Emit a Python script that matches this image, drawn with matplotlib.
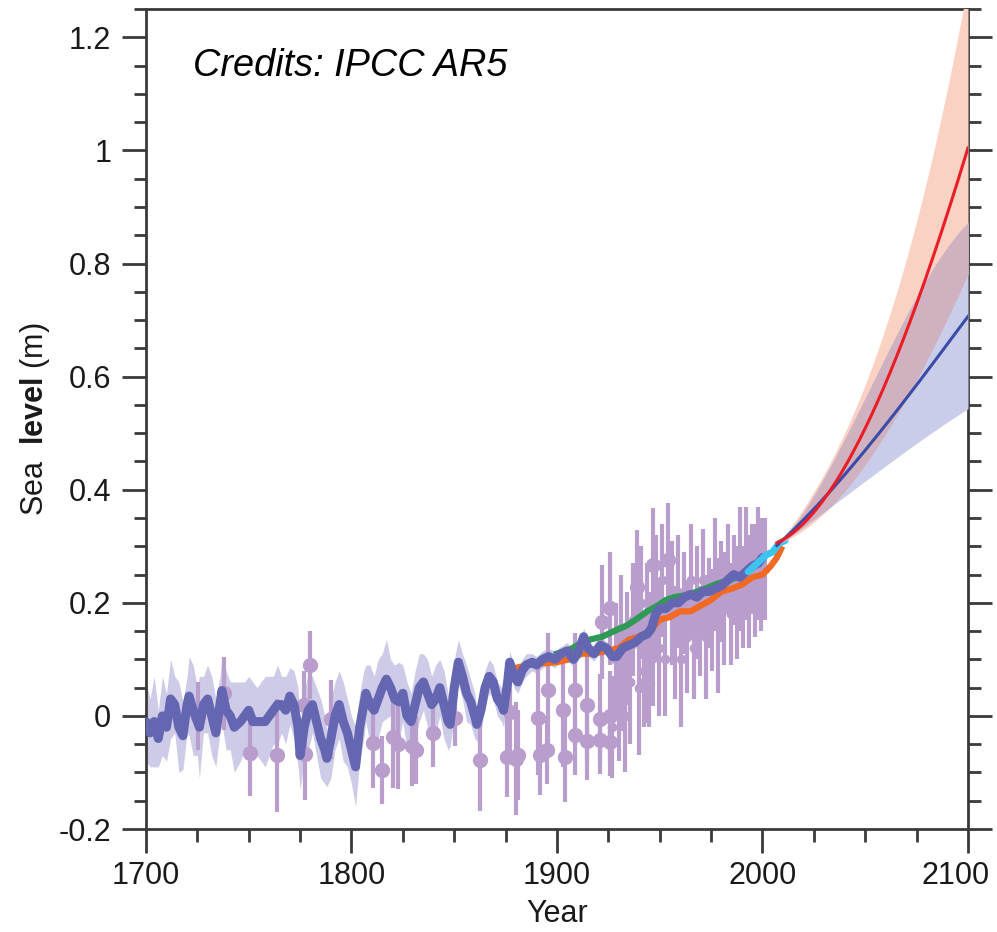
import numpy as np
import matplotlib
matplotlib.use("Agg")
import matplotlib.pyplot as plt
import matplotlib.transforms as mtransforms
from matplotlib.ticker import MultipleLocator

plt.rcParams['font.family'] = ['Liberation Sans', 'DejaVu Sans']
plt.rcParams['mathtext.fontset'] = 'custom'
plt.rcParams['mathtext.rm'] = 'Liberation Sans'
plt.rcParams['mathtext.bf'] = 'Liberation Sans:bold'

# ---- Reconstruction (long-term, 1700-2000) ----
recon_years = [1700, 1702, 1704, 1706, 1708, 1710, 1712, 1714, 1716, 1718,
               1720, 1721, 1723, 1725, 1726, 1728, 1730, 1732, 1734, 1736,
               1737, 1739, 1741, 1743, 1746, 1748, 1750, 1752, 1754, 1756,
               1758, 1760, 1762, 1764, 1766, 1768, 1770, 1772, 1774, 1775,
               1777, 1779, 1781, 1783, 1785, 1787, 1788, 1790, 1792, 1794,
               1796, 1798, 1800, 1802, 1804, 1806, 1807, 1809, 1811, 1813,
               1815, 1817, 1819, 1821, 1823, 1825, 1827, 1829, 1831, 1833,
               1835, 1837, 1839, 1841, 1843, 1845, 1847, 1848, 1850, 1852,
               1854, 1856, 1858, 1860, 1861, 1863, 1865, 1867, 1869, 1871,
               1873, 1874, 1876, 1877, 1879, 1881, 1883, 1885, 1888, 1890,
               1893, 1896, 1899, 1902, 1905, 1908, 1910, 1913, 1915, 1918,
               1921, 1924, 1927, 1929, 1932, 1935, 1938, 1941, 1944, 1946,
               1948, 1950, 1953, 1956, 1959, 1962, 1965, 1968, 1971, 1974,
               1977, 1980, 1983, 1986, 1989, 1992, 1995, 1998, 2000]
recon_vals = [-0.01, -0.03, -0.01, -0.04, 0.00, -0.02, 0.03, 0.02, -0.02, -0.035,
              0.02, 0.035, 0.01, -0.01, -0.02, 0.02, 0.03, 0.00, -0.03, 0.02,
              0.045, 0.01, 0.00, -0.02, -0.01, 0.00, 0.01, -0.01, -0.01, -0.01,
              -0.01, 0.00, 0.01, 0.02, 0.02, 0.01, 0.035, 0.02, -0.02, -0.07,
              -0.02, 0.01, 0.02, -0.01, -0.04, -0.06, -0.075, -0.04, 0.00, 0.02,
              -0.01, -0.03, -0.06, -0.09, -0.02, 0.02, 0.04, 0.02, 0.01, 0.03,
              0.05, 0.065, 0.05, 0.03, 0.025, 0.04, 0.00, -0.01, 0.02, 0.05,
              0.06, 0.04, 0.02, 0.03, 0.05, 0.02, -0.01, -0.015, 0.05, 0.095,
              0.07, 0.04, 0.025, 0.00, -0.015, 0.01, 0.05, 0.07, 0.06, 0.03,
              0.02, 0.01, 0.06, 0.095, 0.07, 0.06, 0.08, 0.09, 0.095, 0.09,
              0.10, 0.105, 0.10, 0.11, 0.115, 0.10, 0.11, 0.14, 0.12, 0.11,
              0.125, 0.12, 0.105, 0.105, 0.12, 0.125, 0.13, 0.14, 0.145, 0.155,
              0.18, 0.19, 0.19, 0.20, 0.20, 0.21, 0.215, 0.21, 0.22, 0.22,
              0.225, 0.23, 0.24, 0.25, 0.245, 0.255, 0.265, 0.27, 0.28]
recon_err = [0.07, 0.06, 0.08, 0.05, 0.07, 0.06, 0.07, 0.05, 0.08, 0.06,
             0.05, 0.07, 0.08, 0.06, 0.09, 0.05, 0.06, 0.07, 0.06, 0.05,
             0.06, 0.07, 0.06, 0.08, 0.07, 0.06, 0.06, 0.07, 0.06, 0.07,
             0.08, 0.07, 0.06, 0.07, 0.05, 0.06, 0.05, 0.06, 0.07, 0.06,
             0.06, 0.07, 0.05, 0.06, 0.07, 0.06, 0.05, 0.07, 0.06, 0.06,
             0.07, 0.06, 0.06, 0.07, 0.06, 0.06, 0.05, 0.07, 0.06, 0.07,
             0.06, 0.07, 0.05, 0.06, 0.07, 0.05, 0.06, 0.05, 0.06, 0.06,
             0.05, 0.06, 0.05, 0.06, 0.05, 0.06, 0.05, 0.04, 0.05, 0.04,
             0.04, 0.05, 0.04, 0.04, 0.03, 0.04, 0.03, 0.03, 0.03, 0.03,
             0.03, 0.03, 0.02, 0.02, 0.02, 0.02, 0.02, 0.02, 0.015, 0.015,
             0.015, 0.014, 0.015, 0.013, 0.015, 0.014, 0.013, 0.015, 0.014, 0.013,
             0.013, 0.012, 0.013, 0.012, 0.012, 0.012, 0.011, 0.012, 0.011, 0.011,
             0.011, 0.010, 0.010, 0.010, 0.010, 0.010, 0.010, 0.010, 0.010, 0.010,
             0.010, 0.010, 0.010, 0.010, 0.010, 0.010, 0.010, 0.010, 0.010]

# ---- Tide-gauge / salt-marsh points with error bars ----
tg_years = [1725.5, 1738, 1750.6, 1763.6, 1777.4, 1777, 1779.8, 1790, 1810.6, 1814.7,
            1820.4, 1822.5, 1829.3, 1831.5, 1839.8, 1850.5, 1862.5, 1875.5, 1877, 1880.3,
            1881, 1890.8, 1891.7, 1895.7, 1895, 1903, 1903.9, 1908.8, 1908.8, 1914.4,
            1914.4, 1921, 1921, 1925.8, 1925.8, 1921.7, 1925.8, 1938.8, 1946.8, 1954.2,
            1932, 1946.8, 1943.6]
tg_vals = [0.00, 0.04, -0.066, -0.07, -0.068, 0.02, 0.09, -0.006, -0.048, -0.096,
           -0.037, -0.05, -0.054, -0.06, -0.03, -0.004, -0.078, -0.073, 0.007, -0.076,
           -0.069, -0.004, -0.07, 0.046, -0.06, 0.01, -0.072, 0.046, -0.034, 0.019,
           -0.044, -0.005, -0.043, -0.001, -0.046, 0.166, 0.19, 0.228, 0.267, 0.276,
           0.063, 0.107, 0.058]
tg_err = [0.06, 0.065, 0.075, 0.10, 0.08, 0.06, 0.06, 0.07, 0.08, 0.06,
          0.09, 0.08, 0.07, 0.06, 0.06, 0.05, 0.09, 0.07, 0.07, 0.10,
          0.08, 0.10, 0.07, 0.10, 0.06, 0.10, 0.08, 0.10, 0.07, 0.10,
          0.07, 0.08, 0.06, 0.08, 0.06, 0.10, 0.10, 0.10, 0.10, 0.10,
          0.09, 0.09, 0.07]

# dense cloud of tide-gauge records, 20th century
cloud_years = [1927, 1928.5, 1930, 1931, 1933, 1934, 1935.5, 1937, 1940, 1941,
               1942.5, 1944, 1945, 1948, 1949.5, 1951, 1952.5, 1956, 1957.5, 1959,
               1960.5, 1962, 1963.5, 1965, 1966.5, 1968, 1969.5, 1971, 1972.5, 1974,
               1975.5, 1977, 1978.5, 1980, 1981.5, 1983, 1984.5, 1986, 1987.5, 1989,
               1990.5, 1992, 1993.5, 1995, 1996.5, 1998, 1999.5, 2001]
cloud_vals = [-0.02, 0.10, 0.04, 0.15, 0.00, 0.12, 0.06, 0.17, 0.05, 0.20,
              0.08, 0.18, 0.10, 0.22, 0.12, 0.24, 0.10, 0.20, 0.13, 0.22,
              0.10, 0.20, 0.14, 0.24, 0.12, 0.20, 0.15, 0.24, 0.14, 0.20,
              0.17, 0.25, 0.16, 0.22, 0.19, 0.26, 0.18, 0.24, 0.20, 0.26,
              0.21, 0.27, 0.22, 0.26, 0.24, 0.27, 0.25, 0.26]
cloud_err = [0.09, 0.10, 0.12, 0.10, 0.10, 0.10, 0.11, 0.10, 0.12, 0.10,
             0.10, 0.09, 0.12, 0.10, 0.12, 0.10, 0.10, 0.11, 0.10, 0.10,
             0.12, 0.09, 0.10, 0.10, 0.09, 0.10, 0.08, 0.09, 0.11, 0.08,
             0.09, 0.10, 0.12, 0.09, 0.10, 0.08, 0.09, 0.08, 0.10, 0.11,
             0.09, 0.10, 0.10, 0.08, 0.10, 0.10, 0.10, 0.09]

# ---- Instrumental reconstructions ----
orange_years = [1880, 1886, 1893, 1900, 1906, 1912, 1918, 1924, 1930, 1935,
                1940, 1945, 1950, 1955, 1960, 1965, 1970, 1975, 1980, 1985,
                1990, 1995, 2000, 2004, 2007, 2009]
orange_vals = [0.085, 0.09, 0.093, 0.095, 0.10, 0.11, 0.11, 0.115, 0.12, 0.135,
               0.14, 0.15, 0.17, 0.175, 0.185, 0.185, 0.195, 0.205, 0.22, 0.225,
               0.232, 0.245, 0.25, 0.265, 0.28, 0.295]
green_years = [1900, 1905, 1910, 1916, 1922, 1929, 1934, 1939, 1944, 1949,
               1953, 1957, 1962, 1966, 1972, 1978, 1984, 1990]
green_vals = [0.11, 0.115, 0.125, 0.135, 0.14, 0.152, 0.16, 0.172, 0.185, 0.195,
              0.205, 0.21, 0.213, 0.217, 0.225, 0.234, 0.24, 0.25]
cyan_years = [1993, 1996, 1999, 2002, 2005, 2008, 2011]
cyan_vals = [0.255, 0.265, 0.275, 0.285, 0.29, 0.305, 0.31]

# ---- Projections (2007-2100) ----
proj_years = [2007, 2020, 2030, 2040, 2050, 2060, 2070, 2080, 2090, 2100]
high_med = [0.30, 0.35, 0.39, 0.435, 0.50, 0.585, 0.68, 0.79, 0.89, 1.00]
high_hi = [0.30, 0.37, 0.42, 0.51, 0.59, 0.68, 0.80, 0.95, 1.12, 1.29]
high_lo = [0.30, 0.335, 0.36, 0.40, 0.44, 0.49, 0.56, 0.635, 0.71, 0.775]
low_med = [0.30, 0.35, 0.385, 0.425, 0.47, 0.515, 0.56, 0.61, 0.66, 0.705]
low_hi = [0.30, 0.36, 0.42, 0.49, 0.56, 0.64, 0.71, 0.77, 0.825, 0.875]
low_lo = [0.30, 0.334, 0.36, 0.39, 0.415, 0.44, 0.47, 0.495, 0.52, 0.543]

x_ticks = [1700, 1800, 1900, 2000, 2100]
y_ticks = [-0.2, 0, 0.2, 0.4, 0.6, 0.8, 1.0, 1.2]
y_ticklabels = ['-0.2', '0', '0.2', '0.4', '0.6', '0.8', '1', '1.2']

# ---------------------------------------------------------------
fig = plt.figure(figsize=(9.97, 9.32), dpi=100)
ax = fig.add_axes([0.1464, 0.1105, 0.8245, 0.8798])

ry = np.array(recon_years)
rv = np.array(recon_vals)
re = np.array(recon_err)
ax.fill_between(ry, rv - re, rv + re, color='#cdcbe8', lw=0, zorder=1)

tg_col = '#b99dcc'
ax.errorbar(tg_years, tg_vals, yerr=tg_err, fmt='o', color=tg_col, ms=10,
            elinewidth=3, capsize=0, zorder=2)
ax.errorbar(cloud_years, cloud_vals, yerr=cloud_err, fmt='o', color=tg_col, ms=6,
            elinewidth=3, capsize=0, zorder=2)

ax.plot(orange_years, orange_vals, color='#f26a22', lw=4.5, zorder=3,
        solid_joinstyle='round')
ax.plot(green_years, green_vals, color='#2f9a55', lw=4.5, zorder=4,
        solid_joinstyle='round')
ax.plot(ry, rv, color='#6466b2', lw=6.5, zorder=5, solid_joinstyle='round',
        solid_capstyle='round')
ax.plot(cyan_years, cyan_vals, color='#3cc3ee', lw=5, zorder=6,
        solid_capstyle='round')

# smooth projection curves through the read values
py = np.array(proj_years)
fine = np.linspace(py[0], py[-1], 200)
def smooth(vals):
    return np.polyval(np.polyfit(py, vals, 3), fine)
hh, hl = smooth(high_hi), smooth(high_lo)
lh, ll = smooth(low_hi), smooth(low_lo)
ax.fill_between(fine, hl, hh, color='#f9d2c3', lw=0, zorder=7)
ax.fill_between(fine, ll, lh, color='#c9cde9', lw=0, zorder=7)
ov_lo = np.maximum(hl, ll)
ov_hi = np.minimum(hh, lh)
ax.fill_between(fine, ov_lo, ov_hi, where=ov_hi >= ov_lo, color='#cfb1bf', lw=0,
                zorder=8, interpolate=True)
ax.plot(fine, smooth(low_med), color='#3b4ca8', lw=2.2, zorder=9)
ax.plot(fine, smooth(high_med), color='#ec1c26', lw=2.2, zorder=10)

ax.set_xlim(1700, 2100)
ax.set_ylim(-0.2, 1.25)
ax.set_xticks(x_ticks)
ax.set_xticklabels([str(v) for v in x_ticks])
ax.xaxis.set_minor_locator(MultipleLocator(25))
ax.set_yticks(y_ticks)
ax.set_yticklabels(y_ticklabels)
ax.yaxis.set_minor_locator(MultipleLocator(0.05))

ax.tick_params(axis='both', which='major', direction='out', length=17, width=2,
               color='#3a3a3a', labelsize=22, labelcolor='#1a1a1a')
ax.tick_params(axis='both', which='minor', direction='out', length=9, width=2,
               color='#3a3a3a')
ax.tick_params(axis='y', which='both', right=True, left=True)
ax.tick_params(axis='y', which='major', pad=8)
ax.tick_params(axis='x', which='major', pad=6)
for s in ax.spines.values():
    s.set_linewidth(2)
    s.set_color('#3a3a3a')

# last x tick label sits left-shifted so it stays inside the figure
last = ax.get_xticklabels()[-1]
last.set_horizontalalignment('right')
last.set_transform(last.get_transform() +
                   mtransforms.ScaledTranslation(22 / 100, 0, fig.dpi_scale_trans))

ax.set_xlabel('Year', fontsize=22, labelpad=6, color='#1a1a1a')
ax.set_ylabel(r'Sea  $\mathbf{level}$ (m)', fontsize=22, labelpad=5,
              color='#1a1a1a')

ax.text(1723, 1.15, 'Credits: IPCC AR5', fontsize=27.3, style='italic',
        va='center', ha='left', color='black', zorder=12)

fig.savefig('out.png', dpi=100)
